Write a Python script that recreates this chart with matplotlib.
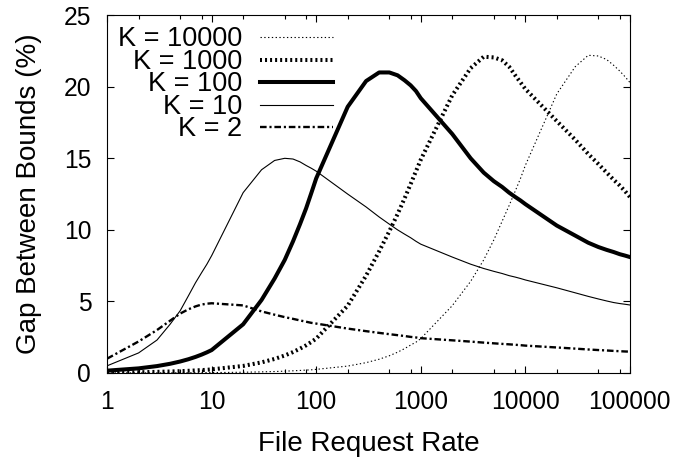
import numpy as np
import matplotlib.pyplot as plt
from matplotlib.ticker import LogLocator, FixedLocator, NullFormatter

plt.rcParams['font.family'] = ['Liberation Sans', 'DejaVu Sans']
plt.rcParams['font.size'] = 17.7

# request rates sampled 1..9 per decade
rate = [1, 2, 3, 4, 5, 6, 7, 8, 9,
        10, 20, 30, 40, 50, 60, 70, 80, 90,
        100, 200, 300, 400, 500, 600, 700, 800, 900,
        1000, 2000, 3000, 4000, 5000, 6000, 7000, 8000, 9000,
        10000, 20000, 30000, 40000, 50000, 60000, 70000, 80000, 90000,
        100000]

gap_k10000 = [0.003, 0.005, 0.008, 0.01, 0.013, 0.015, 0.018, 0.02, 0.023,
              0.025, 0.05, 0.075, 0.1, 0.125, 0.15, 0.175, 0.2, 0.22,
              0.25, 0.48, 0.72, 0.96, 1.2, 1.45, 1.7, 1.95, 2.15,
              2.4, 4.7, 6.4, 7.9, 9.3, 10.6, 11.7, 12.7, 13.6,
              14.5, 19.5, 21.4, 22.2, 22.15, 21.9, 21.5, 21.1, 20.7,
              20.3]

gap_k1000 = [0.025, 0.05, 0.075, 0.1, 0.125, 0.15, 0.175, 0.2, 0.22,
             0.25, 0.49, 0.74, 0.98, 1.22, 1.46, 1.7, 1.93, 2.17,
             2.4, 4.7, 6.8, 8.5, 9.9, 11.1, 12.2, 13.2, 14.1,
             14.9, 19.4, 21.3, 22.1, 22.05, 21.85, 21.4, 20.8, 20.3,
             19.85, 17.6, 16.3, 15.3, 14.6, 14.0, 13.5, 13.1, 12.7,
             12.3]

gap_k100 = [0.16, 0.32, 0.48, 0.64, 0.8, 0.96, 1.12, 1.28, 1.44,
            1.6, 3.4, 5.1, 6.6, 7.9, 9.2, 10.4, 11.5, 12.6,
            13.6, 18.6, 20.4, 21.0, 21.0, 20.8, 20.45, 20.1, 19.7,
            19.2, 16.7, 15.0, 14.0, 13.4, 13.0, 12.6, 12.3, 12.05,
            11.8, 10.3, 9.6, 9.1, 8.8, 8.6, 8.45, 8.3, 8.2,
            8.1]

gap_k10 = [0.5, 1.4, 2.3, 3.4, 4.35, 5.4, 6.3, 7.0, 7.6,
           8.2, 12.6, 14.2, 14.85, 15.0, 14.95, 14.75, 14.5, 14.3,
           14.1, 12.5, 11.6, 10.9, 10.4, 10.0, 9.7, 9.45, 9.2,
           9.0, 8.1, 7.6, 7.3, 7.1, 6.95, 6.8, 6.7, 6.6,
           6.5, 5.95, 5.6, 5.35, 5.17, 5.03, 4.92, 4.85, 4.8,
           4.75]

gap_k2 = [1.0, 2.2, 3.0, 3.65, 4.15, 4.45, 4.65, 4.78, 4.84,
          4.87, 4.72, 4.3, 4.07, 3.9, 3.78, 3.67, 3.58, 3.5,
          3.45, 3.1, 2.92, 2.8, 2.71, 2.64, 2.58, 2.52, 2.48,
          2.43, 2.28, 2.19, 2.12, 2.07, 2.03, 2.0, 1.97, 1.94,
          1.91, 1.78, 1.7, 1.64, 1.6, 1.57, 1.54, 1.52, 1.5,
          1.49]

labels = ["K = 10000", "K = 1000", "K = 100", "K = 10", "K = 2"]
series = [gap_k10000, gap_k1000, gap_k100, gap_k10, gap_k2]
styles = [
    dict(lw=0.8, linestyle=(0, (1.2, 2.2))),
    dict(lw=2.9, linestyle=(0, (0.5, 0.75))),
    dict(lw=2.9, linestyle='-'),
    dict(lw=0.8, linestyle='-'),
    dict(lw=1.7, linestyle=(0, (2.8, 1.2, 0.9, 1.2))),
]

fig = plt.figure(figsize=(6.78, 4.61), dpi=100)
ax = fig.add_axes([0.158, 0.191, 0.771, 0.776])

for vals, st in zip(series, styles):
    ax.plot(rate, vals, color='black', dash_capstyle='butt', **st)

ax.set_xscale('log')
ax.set_xlim(1, 100000)
ax.set_ylim(0, 25)
ax.xaxis.set_major_locator(FixedLocator([1, 10, 100, 1000, 10000, 100000]))
ax.set_xticklabels(['1', '10', '100', '1000', '10000', '100000'])
ax.xaxis.set_minor_locator(LogLocator(base=10, subs=(2, 5, 8)))
ax.xaxis.set_minor_formatter(NullFormatter())
ax.set_yticks([0, 5, 10, 15, 20, 25])

ax.tick_params(which='both', direction='in', top=True, right=True, width=0.8)
ax.tick_params(which='major', length=5)
ax.tick_params(which='minor', length=2.8)
ax.tick_params(axis='x', which='major', pad=12)
ax.tick_params(axis='y', which='major', pad=11.5)
for sp in ax.spines.values():
    sp.set_linewidth(0.8)

ax.set_xlabel("File Request Rate", va='center', fontsize=20)
ax.set_ylabel("Gap Between Bounds (%)", va='center', fontsize=20)
ax.xaxis.set_label_coords(0.5, -0.2)
ax.yaxis.set_label_coords(-0.149, 0.5)

# key in the upper left corner, text right-aligned before the sample line
y0, dy = 0.938, 0.0628
for i, (lab, st) in enumerate(zip(labels, styles)):
    yy = y0 - i * dy
    ax.text(0.258, yy - 0.025, lab, transform=ax.transAxes, ha='right',
            va='baseline', fontsize=19.5)
    ax.plot([0.2925, 0.432], [yy, yy], transform=ax.transAxes, color='black',
            dash_capstyle='butt', **st)

fig.savefig("out.png", dpi=100)
